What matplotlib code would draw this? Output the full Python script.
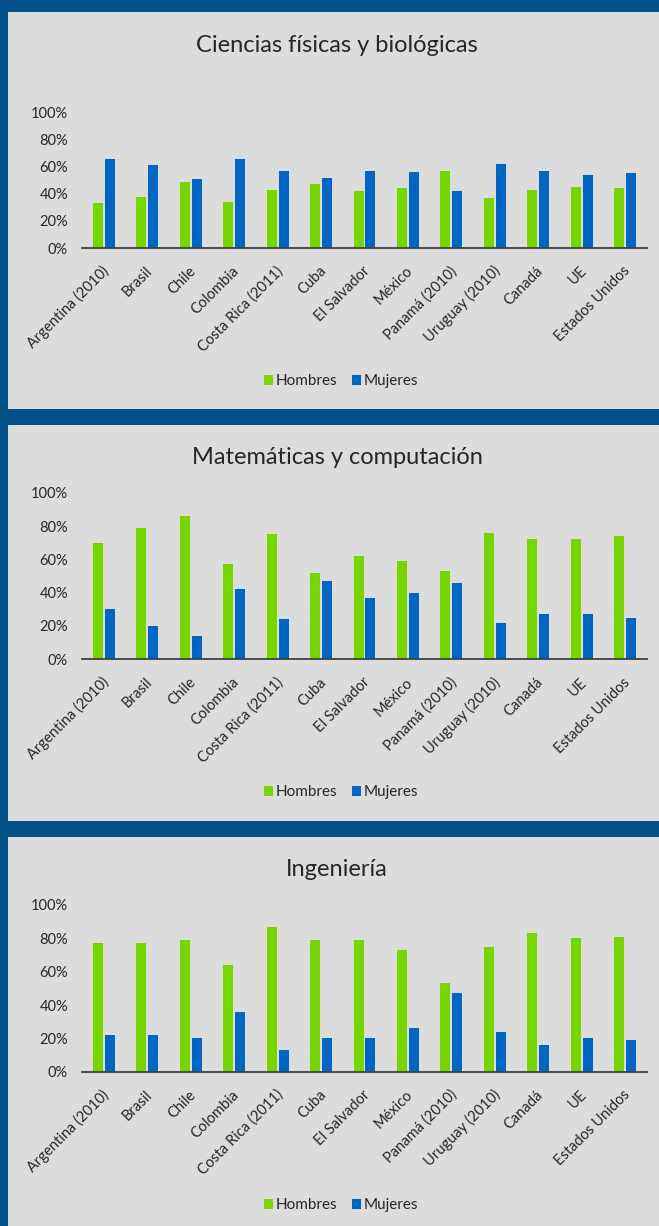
import matplotlib
matplotlib.use("Agg")
import matplotlib.pyplot as plt
import numpy as np
from matplotlib.patches import Rectangle

# Data (percent of graduates by sex)
categories = ["Argentina (2010)", "Brasil", "Chile", "Colombia", "Costa Rica (2011)",
              "Cuba", "El Salvador", "México", "Panamá (2010)", "Uruguay (2010)",
              "Canadá", "UE", "Estados Unidos"]
titles = ["Ciencias físicas y biológicas", "Matemáticas y computación", "Ingeniería"]
series_names = ["Hombres", "Mujeres"]

fis_hombres = [33, 38, 49, 34, 43, 47, 42, 44, 57, 37, 43, 45, 44]
fis_mujeres = [66, 61, 51, 66, 57, 52, 57, 56, 42, 62, 57, 54, 55]
mat_hombres = [70, 79, 86, 57, 75, 52, 62, 59, 53, 76, 72, 72, 74]
mat_mujeres = [30, 20, 14, 42, 24, 47, 37, 40, 46, 22, 27, 27, 25]
ing_hombres = [77, 77, 79, 64, 87, 79, 79, 73, 53, 75, 83, 80, 81]
ing_mujeres = [22, 22, 20, 36, 13, 20, 20, 26, 47, 24, 16, 20, 19]
yticks = [0, 20, 40, 60, 80, 100]

W, H = 659, 1226
BORDER = "#03538a"
PANEL = "#dcdcdc"
GREEN = "#78d600"
BLUE = "#0066c4"
TEXT = "#262626"

plt.rcParams["font.family"] = ["Lato", "DejaVu Sans"]

fig = plt.figure(figsize=(W / 100, H / 100), dpi=100, facecolor=BORDER)


def fx(x):
    return x / W


def fy(y):
    return 1 - y / H


# panel boxes in pixels: (left, top, right, bottom)
panels = [(8, 12, 659, 409), (8, 425, 659, 821), (8, 837, 659, 1226)]
# axes: (top of 100%, zero line), title y, legend y
axes_y = [(112.5, 248), (492.7, 659.3), (905, 1071.7)]
title_y = [45, 457, 869]
legend_y = [381, 792, 1205]
data = [(fis_hombres, fis_mujeres), (mat_hombres, mat_mujeres), (ing_hombres, ing_mujeres)]

x = np.arange(len(categories))
bw = 0.23
off = 0.138

for i in range(3):
    l, t, r, b = panels[i]
    fig.patches.append(Rectangle((fx(l), fy(b)), fx(r - l), (b - t) / H,
                                 transform=fig.transFigure, facecolor=PANEL,
                                 edgecolor="none", zorder=-5))
    top, zero = axes_y[i]
    ax = fig.add_axes([fx(82), fy(zero), fx(647 - 82), (zero - top) / H])
    ax.set_facecolor("none")
    h, m = data[i]
    ax.bar(x - off, h, bw, color=GREEN, label=series_names[0], zorder=2)
    ax.bar(x + off, m, bw, color=BLUE, label=series_names[1], zorder=2)
    ax.set_xlim(-0.5, len(categories) - 0.5)
    ax.set_ylim(0, 100)
    ax.set_yticks(yticks)
    ax.set_yticklabels([f"{v}%" for v in yticks], fontsize=10.5, color=TEXT)
    ax.set_xticks(x)
    ax.set_xticklabels([])
    # category labels, slanted like Excel's
    for xi, cat in zip(x, categories):
        ax.annotate(cat, (xi, 0), xycoords=("data", "axes fraction"),
                    xytext=(2, -15), textcoords="offset points",
                    rotation=45, ha="right", va="center",
                    rotation_mode="anchor", fontsize=10.5, color=TEXT)
    ax.tick_params(axis="y", length=0, pad=10)
    ax.tick_params(axis="x", length=0)
    for s in ["top", "right", "left"]:
        ax.spines[s].set_visible(False)
    ax.spines["bottom"].set_color("#404040")
    ax.spines["bottom"].set_linewidth(1.3)
    ax.spines["bottom"].set_zorder(3)

    fig.text(fx(337), fy(title_y[i]), titles[i], ha="center", va="center",
             fontsize=17, color=TEXT)
    ax.legend(loc="center", bbox_to_anchor=(fx(341), fy(legend_y[i])),
              bbox_transform=fig.transFigure, ncol=2, frameon=False,
              fontsize=11, handlelength=0.6, handleheight=0.65,
              handletextpad=0.15, columnspacing=1.0, labelcolor=TEXT)

fig.savefig("out.png", dpi=100, facecolor=BORDER)
